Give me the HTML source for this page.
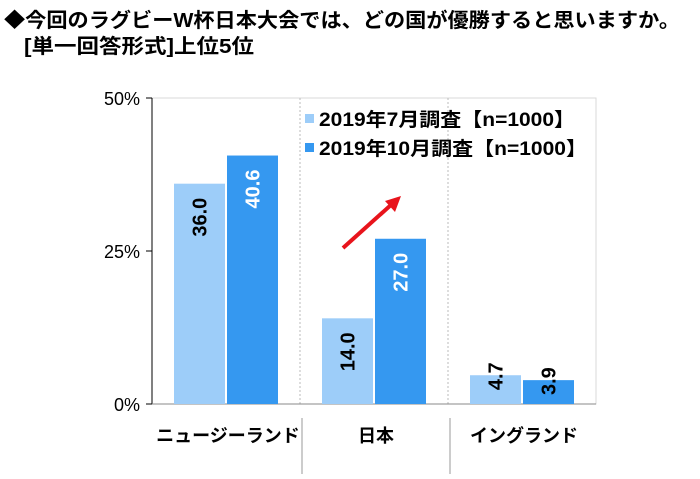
<!DOCTYPE html>
<html><head><meta charset="utf-8"><style>
body{margin:0;background:#fff;width:700px;height:474px;overflow:hidden;font-family:"Liberation Sans","Noto Sans CJK JP",sans-serif}
</style></head><body>
<svg width="700" height="474" xmlns="http://www.w3.org/2000/svg" font-family="Liberation Sans, Noto Sans CJK JP, sans-serif">
<text x="4" y="27" font-size="20" font-weight="bold" fill="#000" textLength="676" lengthAdjust="spacingAndGlyphs">◆今回のラグビーW杯日本大会では、どの国が優勝すると思いますか。</text>
<text x="24" y="53" font-size="20" font-weight="bold" fill="#000" textLength="230" lengthAdjust="spacingAndGlyphs">[単一回答形式]上位5位</text>
<g id="plot"></g>
</svg>
<script>
const categories=["ニュージーランド","日本","イングランド"];
const july=[36.0,14.0,4.7];
const october=[40.6,27.0,3.9];
const ticks=[0,25,50];
const seriesNames=["2019年7月調査【n=1000】","2019年10月調査【n=1000】"];
const NS="http://www.w3.org/2000/svg";
const g=document.getElementById('plot');
const x0=152,x1=596,y0=404,yTop=98,vmax=50;
const y=v=>y0-(v/vmax)*(y0-yTop);
const catW=(x1-x0)/categories.length;
function el(t,a,txt){const e=document.createElementNS(NS,t);for(const k in a)e.setAttribute(k,a[k]);if(txt!==undefined)e.textContent=txt;g.appendChild(e);return e;}
let e;
e=el('rect',{x:x0,y:yTop,width:x1-x0,height:y0-yTop,fill:'none',stroke:'#d9d9d9'});

for(let i=1;i<categories.length;i++){
 e=el('line',{x1:x0+i*catW,x2:x0+i*catW,y1:yTop,y2:y0,stroke:'#bbb','stroke-dasharray':'2,2'});
 
 e=el('line',{x1:x0+i*catW+2,x2:x0+i*catW+2,y1:418,y2:474,stroke:'#999'});
 
}
e=el('line',{x1:x0,x2:x0,y1:yTop,y2:y0,stroke:'#000'});

e=el('line',{x1:x0,x2:x1,y1:y0,y2:y0,stroke:'#888'});

ticks.forEach(t=>{
 e=el('line',{x1:x0-6,x2:x0,y1:y(t),y2:y(t),stroke:'#000'});
 
 e=el('text',{x:x0-12,y:y(t)+7,'text-anchor':'end','font-size':'18',fill:'#000'},t+'%');
 
});
const bw=51;
categories.forEach((c,i)=>{
 const cx=x0+i*catW+catW/2;
 [[july[i],'#9dcdf9','#000',cx-52],[october[i],'#3598f0','#fff',cx+1]].forEach(([v,col,tc,bx],s)=>{
  e=el('rect',{x:bx,y:y(v),width:bw,height:y0-y(v),fill:col});
  
  const small=v<8;
  const tx=bx+bw/2+7;
  e=el('text',{x:0,y:0,'font-size':'20','font-weight':'bold','text-anchor':'end',fill:small?'#000':tc,transform:`translate(${tx},${y(v)+14}) rotate(-90)`},v.toFixed(1));
  if(small){e.setAttribute('text-anchor','middle');e.setAttribute('transform',`translate(${tx},${y(v)+1}) rotate(-90)`);}
  
 });
 e=el('text',{x:cx+2,y:442,'text-anchor':'middle','font-size':'18','font-weight':'bold',fill:'#000'},c);
 
});
[['#9dcdf9',126,256],['#3598f0',155,268]].forEach(([col,ly,tl],i)=>{
 e=el('rect',{x:305,y:ly-12,width:9,height:9,fill:col});
 
 e=el('text',{x:319,y:ly,'font-size':'19','font-weight':'bold',fill:'#000',textLength:tl,lengthAdjust:'spacingAndGlyphs'},seriesNames[i]);
 
});
e=el('line',{x1:343,y1:248,x2:392,y2:204,stroke:'#e8141c','stroke-width':'4'});

e=el('polygon',{points:'401,196 385,201 395,212',fill:'#e8141c'});

</script>
</body></html>
